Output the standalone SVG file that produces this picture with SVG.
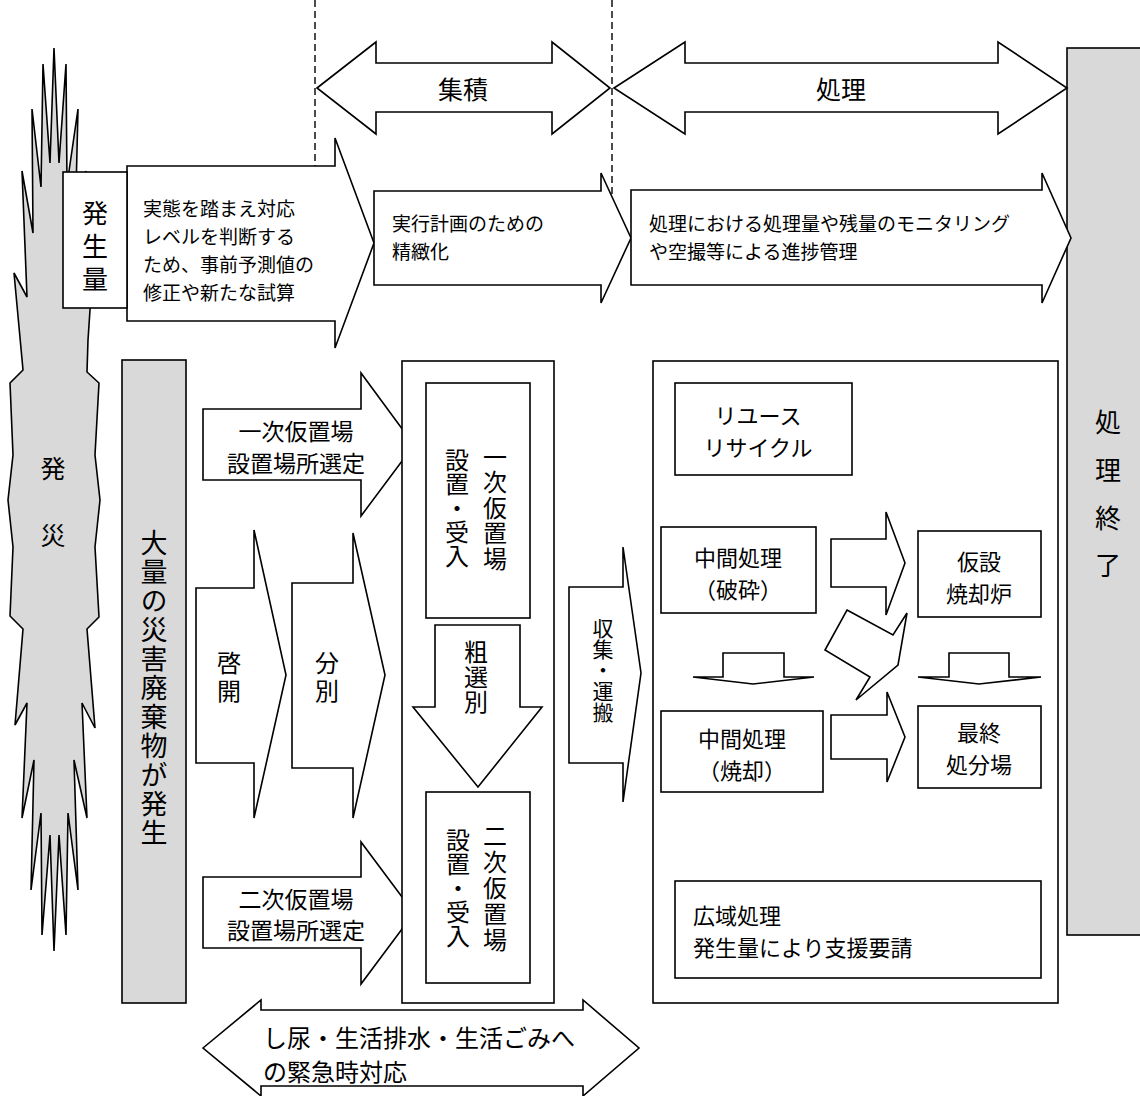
<svg xmlns="http://www.w3.org/2000/svg" width="1140" height="1096" viewBox="0 0 1140 1096">
<style>
.s{stroke:#000;stroke-width:1.6;stroke-linejoin:miter;fill:#fff}
.g{stroke:#000;stroke-width:1.6;fill:#d9d9d9}
.d{stroke:#000;stroke-width:1.4;stroke-dasharray:7,4;fill:none}
text{font-family:"Noto Sans CJK JP","Noto Sans CJK SC",sans-serif;fill:#000}
.c{text-anchor:middle;dominant-baseline:central}
.l{dominant-baseline:central}
.v{writing-mode:vertical-rl;text-anchor:middle;dominant-baseline:central}
</style>
<rect width="1140" height="1096" fill="#fff"/>
<g id="guides">
<line class="d" x1="315" y1="0" x2="315" y2="166"/>
<line class="d" x1="612" y1="0" x2="612" y2="195"/>
</g>
<g id="end">
<rect class="g" x="1067" y="48" width="80" height="887"/>
<text class="v" font-size="26"><tspan x="1108" y="422">処</tspan><tspan x="1108" y="470">理</tspan><tspan x="1108" y="518">終</tspan><tspan x="1108" y="565">了</tspan></text>
</g>
<g id="hassai">
<polygon class="g" points="54,48 59,163 66,64 67,185 78,109 75,233 86,171 94,273 90,310 88,340 87,372 99,383 95,455 100,500 95,547 99,617 87,629 95,728 82,703 87,818 74,760 78,890 68,813 66,935 59,835 54,951 50,835 42,935 41,813 31,890 34,760 22,818 27,703 15,725 23,629 10,616 13,547 8,500 13,455 10,383 23,370 14,273 27,297 22,171 33,233 32,109 41,187 43,64 50,163"/>
<text class="v" font-size="25"><tspan x="53" y="468">発</tspan><tspan x="53" y="535">災</tspan></text>
</g>
<g id="phase-shuseki">
<polygon class="s" points="317,88 376,42 376,63 552,63 552,42 610,88 552,134 552,112 376,112 376,134"/>
<text class="c" x="463" y="88" font-size="25">集積</text>
</g>
<g id="phase-shori">
<polygon class="s" points="614,88 685,42 685,63 998,63 998,42 1067,88 998,134 998,112 685,112 685,134"/>
<text class="c" x="841" y="88" font-size="25">処理</text>
</g>
<g id="arrow-hasseiryo">
<polygon class="s" points="127,166 335,166 335,138 374,243 335,348 335,321 127,321"/>
<text class="l" font-size="19"><tspan x="143" y="207">実態を踏まえ対応</tspan><tspan x="143" y="235">レベルを判断する</tspan><tspan x="143" y="263">ため、事前予測値の</tspan><tspan x="143" y="291">修正や新たな試算</tspan></text>
</g>
<g id="hasseiryo">
<rect class="s" x="63" y="172" width="64" height="136"/>
<text class="v" font-size="26"><tspan x="95" y="213">発</tspan><tspan x="95" y="246">生</tspan><tspan x="95" y="279">量</tspan></text>
</g>
<g id="arrow-keikaku">
<polygon class="s" points="374,191 601,191 601,173 631,238 601,303 601,285 374,285"/>
<text class="l" font-size="19"><tspan x="392" y="222">実行計画のための</tspan><tspan x="392" y="250">精緻化</tspan></text>
</g>
<g id="arrow-monitoring">
<polygon class="s" points="631,190 1042,190 1042,173 1071,238 1042,303 1042,285 631,285"/>
<text class="l" font-size="19"><tspan x="649" y="222">処理における処理量や残量のモニタリング</tspan><tspan x="649" y="250">や空撮等による進捗管理</tspan></text>
</g>
<g id="tairyo">
<rect class="g" x="122" y="360" width="64" height="643"/>
<text class="v" font-size="27"><tspan x="154" y="543">大</tspan><tspan x="154" y="572">量</tspan><tspan x="154" y="601">の</tspan><tspan x="154" y="630">災</tspan><tspan x="154" y="659">害</tspan><tspan x="154" y="688">廃</tspan><tspan x="154" y="717">棄</tspan><tspan x="154" y="746">物</tspan><tspan x="154" y="775">が</tspan><tspan x="154" y="804">発</tspan><tspan x="154" y="833">生</tspan></text>
</g>
<g id="arrow-ichiji-sentei">
<polygon class="s" points="203,409 361,409 361,373 414,445 361,516 361,480 203,480"/>
<text class="c" font-size="23"><tspan x="296" y="430">一次仮置場</tspan><tspan x="296" y="462">設置場所選定</tspan></text>
</g>
<g id="arrow-keikai">
<polygon class="s" points="196,588 254,588 254,530 286,675 254,818 254,763 196,763"/>
<text class="v" font-size="24"><tspan x="229" y="663">啓</tspan><tspan x="229" y="691">開</tspan></text>
</g>
<g id="arrow-bunbetsu">
<polygon class="s" points="292,583 353,583 353,533 385,675 353,818 353,768 292,768"/>
<text class="v" font-size="24"><tspan x="327" y="663">分</tspan><tspan x="327" y="691">別</tspan></text>
</g>
<g id="arrow-niji-sentei">
<polygon class="s" points="203,877 361,877 361,842 414,913 361,984 361,948 203,948"/>
<text class="c" font-size="23"><tspan x="296" y="898">二次仮置場</tspan><tspan x="296" y="929">設置場所選定</tspan></text>
</g>
<g id="shuseki-box">
<rect class="s" x="402" y="361" width="152" height="642"/>
</g>
<g id="ichiji">
<rect class="s" x="426" y="383" width="104" height="235"/>
<text class="v" font-size="24"><tspan x="495" y="457">一</tspan><tspan x="495" y="482">次</tspan><tspan x="495" y="508">仮</tspan><tspan x="495" y="533">置</tspan><tspan x="495" y="559">場</tspan></text>
<text class="v" font-size="24"><tspan x="457" y="460">設</tspan><tspan x="457" y="484">置</tspan><tspan x="457" y="508">・</tspan><tspan x="457" y="532">受</tspan><tspan x="457" y="556">入</tspan></text>
</g>
<g id="arrow-sosenbetsu">
<polygon class="s" points="435,625 520,625 520,707 542,707 478,787 413,707 435,707"/>
<text class="v" font-size="24"><tspan x="476" y="652">粗</tspan><tspan x="476" y="677">選</tspan><tspan x="476" y="702">別</tspan></text>
</g>
<g id="niji">
<rect class="s" x="426" y="792" width="104" height="191"/>
<text class="v" font-size="24"><tspan x="495" y="836">二</tspan><tspan x="495" y="862">次</tspan><tspan x="495" y="888">仮</tspan><tspan x="495" y="914">置</tspan><tspan x="495" y="940">場</tspan></text>
<text class="v" font-size="24"><tspan x="458" y="840">設</tspan><tspan x="458" y="864">置</tspan><tspan x="458" y="888">・</tspan><tspan x="458" y="912">受</tspan><tspan x="458" y="936">入</tspan></text>
</g>
<g id="arrow-shushu">
<polygon class="s" points="569,587 623,587 623,547 641,673 623,802 623,763 569,763"/>
<text class="v" font-size="21"><tspan x="603" y="628">収</tspan><tspan x="603" y="649">集</tspan><tspan x="603" y="670">・</tspan><tspan x="603" y="691">運</tspan><tspan x="603" y="712">搬</tspan></text>
</g>
<g id="shori-box">
<rect class="s" x="653" y="361" width="405" height="642"/>
</g>
<g id="reuse">
<rect class="s" x="675" y="383" width="177" height="92"/>
<text class="c" font-size="22"><tspan x="758" y="414">リユース</tspan><tspan x="758" y="446">リサイクル</tspan></text>
</g>
<g id="hasai">
<rect class="s" x="661" y="527" width="155" height="86"/>
<text class="c" font-size="22"><tspan x="738" y="556">中間処理</tspan><tspan x="738" y="588">（破砕）</tspan></text>
</g>
<g id="kasetsu">
<rect class="s" x="918" y="531" width="123" height="86"/>
<text class="c" font-size="22"><tspan x="979" y="560">仮設</tspan><tspan x="979" y="592">焼却炉</tspan></text>
</g>
<g id="shokyaku">
<rect class="s" x="661" y="711" width="162" height="81"/>
<text class="c" font-size="22"><tspan x="742" y="737">中間処理</tspan><tspan x="742" y="769">（焼却）</tspan></text>
</g>
<g id="saishu">
<rect class="s" x="918" y="706" width="123" height="82"/>
<text class="c" font-size="22"><tspan x="979" y="731">最終</tspan><tspan x="979" y="763">処分場</tspan></text>
</g>
<g id="koiki">
<rect class="s" x="675" y="881" width="366" height="97"/>
<text class="l" font-size="22"><tspan x="693" y="914">広域処理</tspan><tspan x="693" y="946">発生量により支援要請</tspan></text>
</g>
<g id="connectors">
<polygon class="s" points="831,539 886,539 886,512 905,563 886,615 886,587 831,587"/>
<polygon class="s" points="831,715 887,715 887,692 905,737 887,782 887,759 831,759"/>
<polygon class="s" points="723,653 784,653 784,677 814,677 753,684 693,677 723,677"/>
<polygon class="s" points="949,653 1009,653 1009,677 1041,677 979,684 918,677 949,677"/>
<polygon class="s" points="847,610 893,635 907,613 898,665 856,700 870,677 825,650"/>
</g>
<g id="arrow-emergency">
<polygon class="s" points="203,1048 261,1000 261,1010 583,1010 583,1000 639,1048 583,1096 583,1086 261,1086 261,1096"/>
<text class="l" font-size="24"><tspan x="263" y="1036">し尿・生活排水・生活ごみへ</tspan><tspan x="263" y="1070">の緊急時対応</tspan></text>
</g>
</svg>
